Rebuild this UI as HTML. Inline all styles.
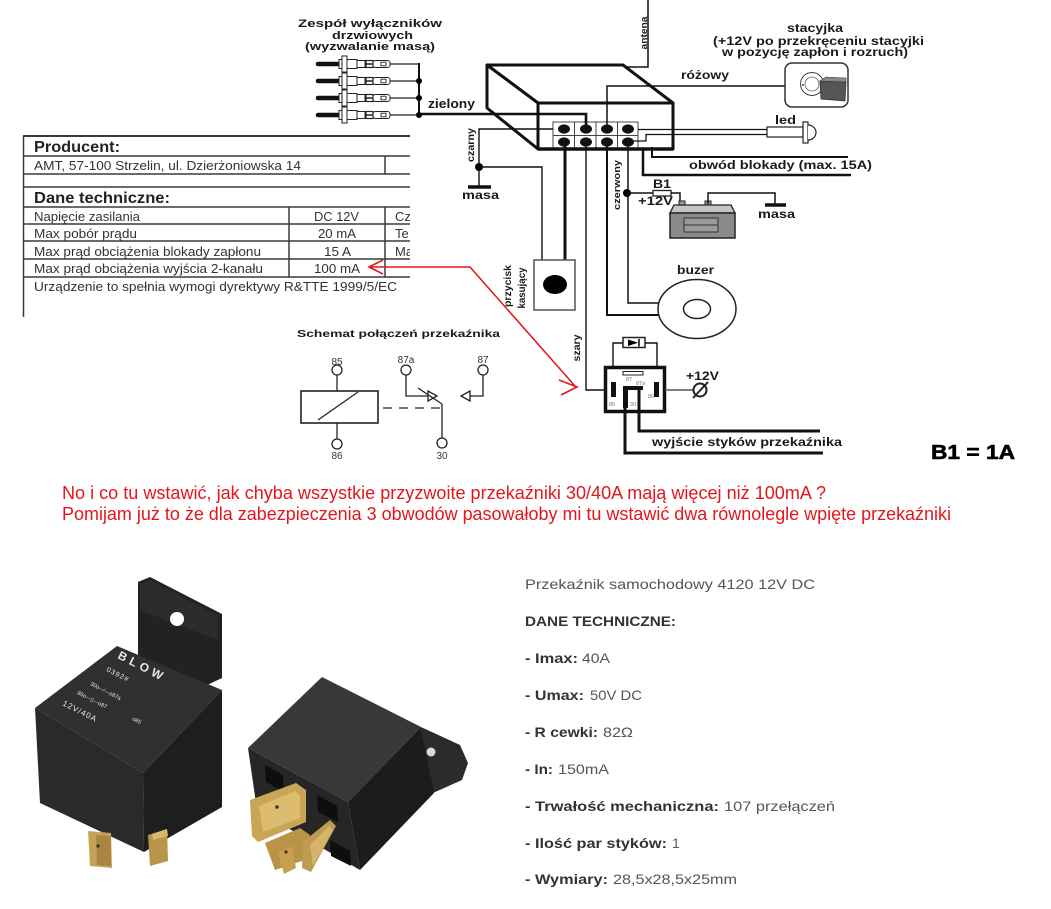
<!DOCTYPE html>
<html><head><meta charset="utf-8"><style>
html,body{margin:0;padding:0;background:#fff;}
svg{display:block}
text{font-family:"Liberation Sans",Arial,sans-serif;}
.b{font-weight:bold;fill:#1a1a1a}
.w{stroke:#111;fill:none}
</style></head><body>
<svg width="1051" height="909" viewBox="0 0 1051 909" xmlns="http://www.w3.org/2000/svg">
<rect width="1051" height="909" fill="#fff"/>
<defs>
<clipPath id="tc"><rect x="0" y="120" width="410" height="210"/></clipPath>
<g id="sw">
  <line x1="318" y1="0" x2="339" y2="0" stroke="#111" stroke-width="4.5" stroke-linecap="round"/>
  <rect x="339" y="-4.5" width="18" height="9" fill="#fff" stroke="#222" stroke-width="1"/>
  <rect x="342" y="-8" width="5" height="16" fill="#fff" stroke="#222" stroke-width="1"/>
  <rect x="357" y="-3.5" width="8" height="7" fill="#fff" stroke="#222" stroke-width="1"/>
  <rect x="366" y="-3.5" width="7" height="7" fill="#fff" stroke="#222" stroke-width="1.2"/>
  <line x1="366" y1="0" x2="373" y2="0" stroke="#222" stroke-width="1.5"/>
  <rect x="373" y="-3.5" width="17" height="7" rx="2.5" fill="#fff" stroke="#222" stroke-width="1"/>
  <rect x="381" y="-1.8" width="5" height="3.6" fill="#fff" stroke="#222" stroke-width="0.9"/>
  <line x1="390" y1="0" x2="419" y2="0" stroke="#222" stroke-width="1.3"/>
</g>
</defs>

<!-- Door switches -->
<text class="b" x="298" y="27" font-size="11" textLength="144" lengthAdjust="spacingAndGlyphs">Zespół  wyłączników</text>
<text class="b" x="332" y="39" font-size="11" textLength="81" lengthAdjust="spacingAndGlyphs">drzwiowych</text>
<text class="b" x="305" y="50" font-size="11" textLength="130" lengthAdjust="spacingAndGlyphs">(wyzwalanie masą)</text>
<use href="#sw" y="64"/>
<use href="#sw" y="81"/>
<use href="#sw" y="98"/>
<use href="#sw" y="115"/>
<line x1="419" y1="63" x2="419" y2="116" stroke="#111" stroke-width="2"/>
<circle cx="419" cy="81" r="3"/>
<circle cx="419" cy="98" r="3"/>
<circle cx="419" cy="115" r="3"/>
<text class="b" x="428" y="108" font-size="13" textLength="47" lengthAdjust="spacingAndGlyphs">zielony</text>

<!-- antena -->
<path class="w" d="M648,0 L648,67 L623,67" stroke-width="1.5"/>
<text class="b" transform="translate(647,33) rotate(-90)" text-anchor="middle" font-size="9" textLength="33" lengthAdjust="spacingAndGlyphs">antena</text>

<!-- Box -->
<g stroke="#111" stroke-width="3" fill="#fff" stroke-linejoin="round">
  <path d="M487,65 L623,65 L673,103 L538,103 Z"/>
  <path d="M487,65 L538,103 L538,149 L487,108 Z"/>
  <rect x="538" y="103" width="135" height="46"/>
</g>
<rect x="553" y="122" width="85" height="27" fill="#fff" stroke="#444" stroke-width="1"/>
<g stroke="#444" stroke-width="1">
  <line x1="574.5" y1="122" x2="574.5" y2="149"/>
  <line x1="596" y1="122" x2="596" y2="149"/>
  <line x1="617.5" y1="122" x2="617.5" y2="149"/>
  <line x1="553" y1="135.5" x2="638" y2="135.5"/>
</g>
<line x1="538" y1="149" x2="673" y2="149" stroke="#111" stroke-width="3.5"/>
<g fill="#111">
  <ellipse cx="564" cy="129" rx="6" ry="4.6"/><ellipse cx="586" cy="129" rx="6" ry="4.6"/>
  <ellipse cx="607" cy="129" rx="6" ry="4.6"/><ellipse cx="628" cy="129" rx="6" ry="4.6"/>
  <ellipse cx="564" cy="142" rx="6" ry="4.6"/><ellipse cx="586" cy="142" rx="6" ry="4.6"/>
  <ellipse cx="607" cy="142" rx="6" ry="4.6"/><ellipse cx="628" cy="142" rx="6" ry="4.6"/>
</g>

<!-- zielony wire -->
<path class="w" d="M419,114 L586,114 L586,125" stroke-width="2.6"/>

<!-- różowy -->
<path class="w" d="M607,125 L607,86 L785,86" stroke-width="1.5"/>
<text class="b" x="681" y="79" font-size="12" textLength="48" lengthAdjust="spacingAndGlyphs">różowy</text>

<!-- stacyjka -->
<text class="b" x="787" y="32" font-size="12" textLength="56" lengthAdjust="spacingAndGlyphs">stacyjka</text>
<text class="b" x="713" y="45" font-size="12" textLength="211" lengthAdjust="spacingAndGlyphs">(+12V po przekręceniu stacyjki</text>
<text class="b" x="722" y="56" font-size="12" textLength="186" lengthAdjust="spacingAndGlyphs">w pozycję zapłon i rozruch)</text>
<rect x="785" y="63" width="63" height="44" rx="7" fill="#fff" stroke="#333" stroke-width="1.5"/>
<circle cx="812" cy="84" r="11.5" fill="#fff" stroke="#444" stroke-width="1"/>
<circle cx="812" cy="84" r="7" fill="#fff" stroke="#666" stroke-width="0.8"/>
<circle cx="803" cy="85" r="1" fill="#444"/>
<polygon points="820,81 846,82 845,101 821,99" fill="#555" stroke="#333" stroke-width="0.8"/>
<polygon points="820,81 826,77 846,78 846,82" fill="#888" stroke="#333" stroke-width="0.6"/>

<!-- led -->
<path class="w" d="M638,129.5 L767,129.5" stroke-width="1.3"/>
<path class="w" d="M634,141 L646,141 L646,134.5 L767,134.5" stroke-width="1.3"/>
<rect x="767" y="127" width="36" height="10" fill="#fff" stroke="#222" stroke-width="1.2"/>
<rect x="803" y="122" width="5" height="21" fill="#fff" stroke="#222" stroke-width="1.2"/>
<path d="M808,125 A8,7.5 0 0 1 808,140" fill="#fff" stroke="#222" stroke-width="1.2"/>
<text class="b" x="775" y="124" font-size="12" textLength="21" lengthAdjust="spacingAndGlyphs">led</text>

<!-- obwod blokady -->
<path class="w" d="M652,147 L652,157 L848,157" stroke-width="2"/>
<path class="w" d="M643,149 L643,175 L851,175" stroke-width="2.5"/>
<text class="b" x="689" y="169" font-size="12" textLength="183" lengthAdjust="spacingAndGlyphs">obwód blokady (max. 15A)</text>

<!-- czarny / masa -->
<path class="w" d="M553,129 L479,129 L479,187" stroke-width="1.4"/>
<line x1="468" y1="187" x2="491" y2="187" stroke="#111" stroke-width="3.5"/>
<circle cx="479" cy="167" r="4"/>
<text class="b" x="462" y="199" font-size="12" textLength="37" lengthAdjust="spacingAndGlyphs">masa</text>
<text class="b" transform="translate(474,145) rotate(-90)" text-anchor="middle" font-size="10" textLength="34" lengthAdjust="spacingAndGlyphs">czarny</text>
<path class="w" d="M479,167 L542,167 L542,260" stroke-width="1.4"/>
<line x1="565" y1="145" x2="565" y2="260" stroke="#111" stroke-width="3"/>
<rect x="534" y="260" width="41" height="50" fill="#fff" stroke="#555" stroke-width="1.5"/>
<ellipse cx="555" cy="284.5" rx="12" ry="9.5" fill="#000"/>
<text class="b" transform="translate(511,286) rotate(-90)" text-anchor="middle" font-size="10" textLength="42" lengthAdjust="spacingAndGlyphs">przycisk</text>
<text class="b" transform="translate(525,288) rotate(-90)" text-anchor="middle" font-size="10" textLength="41" lengthAdjust="spacingAndGlyphs">kasujący</text>

<!-- szary -->
<path class="w" d="M586,145 L586,390 L612,390" stroke-width="1.4"/>
<text class="b" transform="translate(580,348) rotate(-90)" text-anchor="middle" font-size="10" textLength="27" lengthAdjust="spacingAndGlyphs">szary</text>

<!-- buzer wires -->
<path class="w" d="M607,145 L607,315 L661,315" stroke-width="2"/>
<path class="w" d="M628,145 L628,303 L660,303" stroke-width="1.5"/>
<circle cx="627" cy="193" r="4"/>
<text class="b" transform="translate(620,185) rotate(-90)" text-anchor="middle" font-size="9" textLength="50" lengthAdjust="spacingAndGlyphs">czerwony</text>

<!-- B1 fuse & battery -->
<path class="w" d="M627,193 L653,193" stroke-width="1.4"/>
<rect x="653" y="190.5" width="18" height="5.5" fill="#fff" stroke="#222" stroke-width="1.3"/>
<path class="w" d="M671,193 L680,193 L680,206" stroke-width="1.5"/>
<text class="b" x="653" y="188" font-size="12" textLength="18" lengthAdjust="spacingAndGlyphs">B1</text>
<text class="b" x="638" y="205" font-size="12" textLength="35" lengthAdjust="spacingAndGlyphs">+12V</text>
<rect x="679" y="201" width="6" height="5" fill="#999" stroke="#222" stroke-width="1"/>
<rect x="705" y="201" width="6" height="5" fill="#999" stroke="#222" stroke-width="1"/>
<polygon points="674,205 731,205 735,213 670,213" fill="#c4c4c4" stroke="#222" stroke-width="1.3"/>
<rect x="670" y="213" width="65" height="25" fill="#8a8a8a" stroke="#222" stroke-width="1.5"/>
<rect x="684" y="218" width="34" height="14" fill="#9a9a9a" stroke="#333" stroke-width="1"/>
<line x1="684" y1="225" x2="718" y2="225" stroke="#333" stroke-width="1"/>
<path class="w" d="M708,204 L708,193 L775,193 L775,204" stroke-width="1.5"/>
<line x1="765" y1="205" x2="786" y2="205" stroke="#111" stroke-width="3.5"/>
<text class="b" x="758" y="218" font-size="12" textLength="37" lengthAdjust="spacingAndGlyphs">masa</text>

<!-- buzer -->
<text class="b" x="677" y="274" font-size="12" textLength="37" lengthAdjust="spacingAndGlyphs">buzer</text>
<ellipse cx="697" cy="309" rx="39" ry="29.5" fill="#fff" stroke="#222" stroke-width="1.5"/>
<ellipse cx="697" cy="309" rx="13.5" ry="9.5" fill="#fff" stroke="#222" stroke-width="1.5"/>

<!-- relay right -->
<path class="w" d="M613,367 L613,343 L623,343" stroke-width="1.4"/>
<path class="w" d="M645,343 L657,343 L657,367" stroke-width="1.4"/>
<rect x="623" y="337.5" width="22" height="10" fill="#fff" stroke="#222" stroke-width="1.5"/>
<polygon points="628,339.5 628,346 638,342.7" fill="#000"/>
<line x1="639" y1="339" x2="639" y2="346.5" stroke="#000" stroke-width="1.5"/>
<rect x="605.5" y="367.5" width="59" height="44" fill="#fff" stroke="#111" stroke-width="3.5"/>
<rect x="611" y="382" width="5" height="15" fill="#111"/>
<rect x="654" y="382" width="5" height="15" fill="#111"/>
<rect x="623" y="371.5" width="20" height="3.5" fill="#fff" stroke="#222" stroke-width="1"/>
<rect x="623" y="386" width="20" height="4" fill="#111"/>
<rect x="623" y="390" width="5" height="18" fill="#111"/>
<g font-size="5.5" fill="#777">
  <text x="626" y="381">87</text><text x="636" y="385">87a</text>
  <text x="609" y="406">85</text><text x="648" y="398">86</text><text x="630" y="406">30</text>
</g>
<path d="M665,390 L693,390" stroke="#555" stroke-width="1.6"/>
<circle cx="700" cy="390" r="6.5" fill="#fff" stroke="#222" stroke-width="2"/>
<line x1="693" y1="398" x2="708" y2="382" stroke="#222" stroke-width="2"/>
<text class="b" x="686" y="380" font-size="12" textLength="33" lengthAdjust="spacingAndGlyphs">+12V</text>
<path class="w" d="M639,390 L639,431 L820,431" stroke-width="3"/>
<path class="w" d="M625,406 L625,453 L823,453" stroke-width="3"/>
<text class="b" x="652" y="446" font-size="12" textLength="190" lengthAdjust="spacingAndGlyphs">wyjście styków przekaźnika</text>

<!-- relay schematic -->
<text class="b" x="297" y="337" font-size="10" textLength="203" lengthAdjust="spacingAndGlyphs">Schemat połączeń przekaźnika</text>
<g stroke="#222" stroke-width="1.3" fill="#fff">
  <rect x="301" y="391" width="77" height="32" stroke-width="1.6"/>
  <line x1="318" y1="420" x2="358" y2="392"/>
  <line x1="337" y1="375" x2="337" y2="391"/>
  <line x1="337" y1="423" x2="337" y2="439"/>
  <circle cx="337" cy="370" r="5"/>
  <circle cx="337" cy="444" r="5"/>
  <path d="M406,375 L406,396 L428,396" fill="none"/>
  <circle cx="406" cy="370" r="5"/>
  <polygon points="428,391 428,401 437,396"/>
  <line x1="442" y1="404" x2="418" y2="388"/>
  <line x1="442" y1="404" x2="442" y2="438"/>
  <circle cx="442" cy="443" r="5"/>
  <path d="M483,375 L483,396 L470,396" fill="none"/>
  <circle cx="483" cy="370" r="5"/>
  <polygon points="470,391 470,401 461,396"/>
</g>
<line x1="383" y1="408" x2="444" y2="408" stroke="#777" stroke-width="2" stroke-dasharray="9,7"/>
<g font-size="10" fill="#333" text-anchor="middle">
  <text x="337" y="365">85</text><text x="337" y="459">86</text>
  <text x="406" y="363">87a</text><text x="442" y="459">30</text>
  <text x="483" y="363">87</text>
</g>

<!-- Table -->
<g clip-path="url(#tc)">
<g stroke="#3a3a3a" stroke-width="1.5">
  <line x1="23.5" y1="136" x2="23.5" y2="317"/>
  <line x1="23" y1="136" x2="420" y2="136" stroke-width="2"/>
  <line x1="23" y1="156" x2="420" y2="156"/>
  <line x1="23" y1="174" x2="420" y2="174"/>
  <line x1="23" y1="187" x2="420" y2="187"/>
  <line x1="23" y1="207" x2="420" y2="207"/>
  <line x1="23" y1="224" x2="420" y2="224"/>
  <line x1="23" y1="241" x2="420" y2="241"/>
  <line x1="23" y1="259" x2="420" y2="259"/>
  <line x1="23" y1="277" x2="420" y2="277"/>
  <line x1="385" y1="156" x2="385" y2="174"/>
  <line x1="289" y1="207" x2="289" y2="277"/>
  <line x1="385" y1="207" x2="385" y2="277"/>
</g>
<g fill="#333" font-size="13">
  <text x="34" y="152" font-size="16" font-weight="bold" fill="#222" textLength="86" lengthAdjust="spacingAndGlyphs">Producent:</text>
  <text x="34" y="170" textLength="267" lengthAdjust="spacingAndGlyphs">AMT, 57-100 Strzelin, ul. Dzierżoniowska 14</text>
  <text x="34" y="203" font-size="16" font-weight="bold" fill="#222" textLength="136" lengthAdjust="spacingAndGlyphs">Dane techniczne:</text>
  <text x="34" y="221" textLength="106" lengthAdjust="spacingAndGlyphs">Napięcie zasilania</text>
  <text x="34" y="238" textLength="103" lengthAdjust="spacingAndGlyphs">Max pobór prądu</text>
  <text x="34" y="256" textLength="227" lengthAdjust="spacingAndGlyphs">Max prąd obciążenia blokady zapłonu</text>
  <text x="34" y="273" textLength="229" lengthAdjust="spacingAndGlyphs">Max prąd obciążenia wyjścia 2-kanału</text>
  <text x="34" y="291" textLength="363" lengthAdjust="spacingAndGlyphs">Urządzenie to spełnia wymogi dyrektywy R&amp;TTE 1999/5/EC</text>
  <text x="314" y="221" textLength="45" lengthAdjust="spacingAndGlyphs">DC 12V</text>
  <text x="318" y="238" textLength="38" lengthAdjust="spacingAndGlyphs">20 mA</text>
  <text x="324" y="256" textLength="27" lengthAdjust="spacingAndGlyphs">15 A</text>
  <text x="314" y="273" textLength="46" lengthAdjust="spacingAndGlyphs">100 mA</text>
  <text x="395" y="221">Cz</text>
  <text x="395" y="238">Te</text>
  <text x="395" y="256">Ma</text>
</g>
</g>

<!-- red arrow -->
<path d="M369,267 L470,267 L575,386" fill="none" stroke="#e3161c" stroke-width="1.5"/>
<path d="M383,260 L369,267 L383,274" fill="none" stroke="#e3161c" stroke-width="1.6"/>
<path d="M559,380 L577,387 L561,395" fill="none" stroke="#e3161c" stroke-width="1.6"/>

<!-- B1 = 1A -->
<text x="931" y="459" font-family="Liberation Sans Narrow, Liberation Sans, sans-serif" font-size="20" font-weight="bold" fill="#000" stroke="#000" stroke-width="0.6" textLength="84" lengthAdjust="spacingAndGlyphs">B1 = 1A</text>

<!-- red text -->
<text x="62" y="499" font-size="18" fill="#e3161c" textLength="764" lengthAdjust="spacingAndGlyphs">No i co tu wstawić, jak chyba wszystkie przyzwoite przekaźniki 30/40A mają więcej niż 100mA ?</text>
<text x="62" y="520" font-size="18" fill="#e3161c" textLength="889" lengthAdjust="spacingAndGlyphs">Pomijam już to że dla zabezpieczenia 3 obwodów pasowałoby mi tu wstawić dwa równolegle wpięte przekaźniki</text>

<!-- Photo: left relay -->
<polygon points="138,582 150,577 222,614 222,678 205,686 138,655" fill="#222"/>
<polygon points="140,584 150,580 218,616 218,640 140,610" fill="#2c2c2c"/>
<circle cx="177" cy="619" r="7" fill="#fff"/>
<polygon points="35,708 117,646 222,690 143,773" fill="#303030"/>
<polygon points="35,708 143,773 144,852 40,803" fill="#2a2a2a"/>
<polygon points="143,773 222,690 222,807 144,852" fill="#1e1e1e"/>
<polygon points="88,831 111,833 112,868 90,866" fill="#c4a258"/>
<polygon points="96,835 111,836 111,866 97,865" fill="#a9863f"/>
<circle cx="98" cy="846" r="1.6" fill="#333"/>
<polygon points="148,835 167,829 168,861 150,866" fill="#b8954a"/>
<polygon points="152,834 167,829 168,836 153,840" fill="#d6b870"/>
<g fill="#e8e8e8" font-family="Liberation Sans, sans-serif">
  <text transform="translate(117,658) rotate(27)" font-size="12" font-weight="bold" letter-spacing="4">BLOW</text>
  <text transform="translate(106,671) rotate(27)" font-size="7" letter-spacing="1">0392#</text>
  <text transform="translate(90,685) rotate(27)" font-size="5.5">30o—⁄—o87a</text>
  <text transform="translate(77,694) rotate(27)" font-size="5.5">86o—▯—o87</text>
  <text transform="translate(132,720) rotate(27)" font-size="5.5">o85</text>
  <text transform="translate(62,705) rotate(27)" font-size="8" letter-spacing="1">12V/40A</text>
</g>

<!-- Photo: right relay -->
<polygon points="421,727 460,745 468,763 462,780 433,793" fill="#2b2b2b"/>
<circle cx="431" cy="752" r="4.5" fill="#d8d8d8"/>
<polygon points="248,748 322,677 421,727 348,802" fill="#383838"/>
<polygon points="248,748 348,802 360,870 257,810" fill="#262626"/>
<polygon points="348,802 421,727 434,793 360,870" fill="#1c1c1c"/>
<polygon points="265,765 283,775 284,792 266,782" fill="#0e0e0e"/>
<polygon points="317,795 337,806 338,822 318,812" fill="#0e0e0e"/>
<polygon points="330,840 350,851 351,866 331,856" fill="#0e0e0e"/>
<polygon points="250,800 296,783 306,790 306,822 258,842 252,836" fill="#c9a558"/>
<polygon points="259,806 295,791 300,796 300,818 263,832" fill="#dcbd70"/>
<polygon points="265,843 300,828 310,835 305,860 275,870" fill="#b99347"/>
<polygon points="278,852 292,846 296,868 284,874" fill="#c8a050"/>
<polygon points="303,842 330,820 336,826 311,872 302,868" fill="#c09a50"/>
<polygon points="310,845 329,826 333,830 313,866" fill="#d4b468"/>
<circle cx="277" cy="807" r="1.8" fill="#333"/>
<circle cx="286" cy="852" r="1.6" fill="#333"/>

<!-- right text block -->
<g font-family="DejaVu Sans, Liberation Sans, sans-serif" font-size="14">
  <text x="525" y="589" fill="#555" textLength="290" lengthAdjust="spacingAndGlyphs">Przekaźnik samochodowy 4120 12V DC</text>
  <text x="525" y="626" fill="#333" font-weight="bold" textLength="151" lengthAdjust="spacingAndGlyphs">DANE TECHNICZNE:</text>
  <text x="525" y="663" fill="#333" font-weight="bold" textLength="53" lengthAdjust="spacingAndGlyphs">- Imax:</text>
  <text x="582" y="663" fill="#555" textLength="28" lengthAdjust="spacingAndGlyphs">40A</text>
  <text x="525" y="700" fill="#333" font-weight="bold" textLength="59" lengthAdjust="spacingAndGlyphs">- Umax:</text>
  <text x="590" y="700" fill="#555" textLength="52" lengthAdjust="spacingAndGlyphs">50V DC</text>
  <text x="525" y="737" fill="#333" font-weight="bold" textLength="73" lengthAdjust="spacingAndGlyphs">- R cewki:</text>
  <text x="603" y="737" fill="#555" textLength="30" lengthAdjust="spacingAndGlyphs">82Ω</text>
  <text x="525" y="774" fill="#333" font-weight="bold" textLength="28" lengthAdjust="spacingAndGlyphs">- In:</text>
  <text x="558" y="774" fill="#555" textLength="51" lengthAdjust="spacingAndGlyphs">150mA</text>
  <text x="525" y="811" fill="#333" font-weight="bold" textLength="194" lengthAdjust="spacingAndGlyphs">- Trwałość mechaniczna:</text>
  <text x="724" y="811" fill="#555" textLength="111" lengthAdjust="spacingAndGlyphs">107 przełączeń</text>
  <text x="525" y="848" fill="#333" font-weight="bold" textLength="142" lengthAdjust="spacingAndGlyphs">- Ilość par styków:</text>
  <text x="672" y="848" fill="#555">1</text>
  <text x="525" y="884" fill="#333" font-weight="bold" textLength="83" lengthAdjust="spacingAndGlyphs">- Wymiary:</text>
  <text x="613" y="884" fill="#555" textLength="124" lengthAdjust="spacingAndGlyphs">28,5x28,5x25mm</text>
</g>
</svg>
</body></html>
